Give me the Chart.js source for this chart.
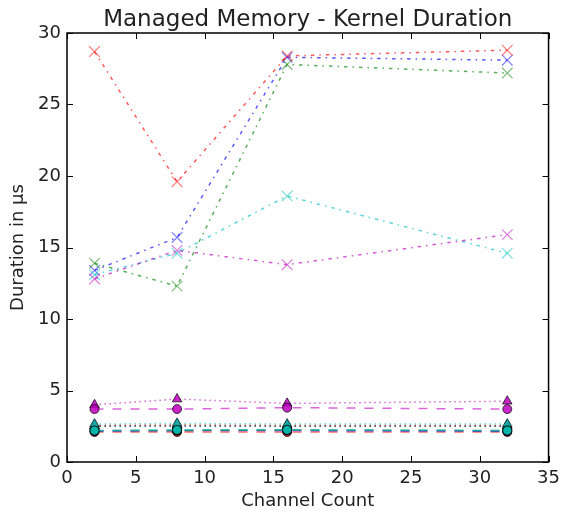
<!DOCTYPE html>
<html>
<head>
<meta charset="utf-8">
<script src="https://cdn.jsdelivr.net/npm/chart.js@4.4.1/dist/chart.umd.min.js"></script>
<style>
  html, body { margin: 0; padding: 0; background: #fff; }
  #wrap { width: 566px; height: 512px; }
</style>
</head>
<body>
<div id="wrap"><canvas id="chart" width="566" height="512"></canvas></div>
<script>
// Data
const channelCounts = [2, 8, 16, 32];
const xTicks = [0, 5, 10, 15, 20, 25, 30, 35];
const yTicks = [0, 5, 10, 15, 20, 25, 30];

// x markers, dash-dot lines
const redCross = [28.7, 19.6, 28.4, 28.8];
const blueCross = [13.4, 15.7, 28.3, 28.1];
const greenCross = [13.9, 12.3, 27.8, 27.2];
const cyanCross = [13.1, 14.6, 18.6, 14.6];
const magentaCross = [12.8, 14.8, 13.8, 15.9];

// triangle markers, dotted lines
const blueTri = [2.5, 2.5, 2.5, 2.5];
const greenTri = [2.5, 2.55, 2.5, 2.5];
const redTri = [2.55, 2.6, 2.55, 2.55];
const cyanTri = [2.65, 2.7, 2.65, 2.65];
const magentaTri = [4.0, 4.4, 4.1, 4.25];

// circle markers, dashed lines
const redCirc = [2.1, 2.1, 2.1, 2.1];
const blueCirc = [2.15, 2.2, 2.2, 2.15];
const greenCirc = [2.2, 2.2, 2.25, 2.2];
const cyanCirc = [2.2, 2.25, 2.25, 2.2];
const magentaCirc = [3.7, 3.7, 3.8, 3.7];

const colors = {
    b: [0, 0, 255],
    g: [0, 128, 0],
    r: [255, 0, 0],
    c: [0, 191, 191],
    m: [191, 0, 191]
};
const rgba = (c, a) => `rgba(${c[0]},${c[1]},${c[2]},${a})`;

const FONT = "'DejaVu Sans', sans-serif";
const TEXT = '#222';

function toPoints(values) {
    return values.map((v, i) => ({ x: channelCounts[i], y: v }));
}

// later series are painted on top, like matplotlib
let drawIndex = 0;
function crossSeries(values, c) {
    const col = colors[c];
    return {
        data: toPoints(values),
        borderColor: rgba(col, 0.65),
        borderWidth: 1.5,
        borderDash: [3.5, 5, 1.5, 5],
        pointStyle: 'crossRot',
        pointRadius: 7.5,
        pointBorderColor: rgba(col, 0.5),
        pointBorderWidth: 1.2,
        fill: false,
        order: -(drawIndex++)
    };
}
function triSeries(values, c) {
    const col = colors[c];
    return {
        data: toPoints(values),
        borderColor: rgba(col, 0.6),
        borderWidth: 1.5,
        borderDash: [1.5, 3.5],
        pointStyle: 'triangle',
        pointRadius: 5.5,
        pointBackgroundColor: rgba(col, 0.85),
        pointBorderColor: 'rgba(0,0,0,0.7)',
        pointBorderWidth: 1,
        fill: false,
        order: -(drawIndex++)
    };
}
function circSeries(values, c) {
    const col = colors[c];
    return {
        data: toPoints(values),
        borderColor: rgba(col, 0.6),
        borderWidth: 1.5,
        borderDash: [9, 9],
        pointStyle: 'circle',
        pointRadius: 4.5,
        pointBackgroundColor: rgba(col, 0.85),
        pointBorderColor: 'rgba(0,0,0,0.7)',
        pointBorderWidth: 1,
        fill: false,
        order: -(drawIndex++)
    };
}

const datasets = [
    crossSeries(blueCross, 'b'),
    crossSeries(greenCross, 'g'),
    crossSeries(redCross, 'r'),
    crossSeries(cyanCross, 'c'),
    crossSeries(magentaCross, 'm'),
    triSeries(blueTri, 'b'),
    triSeries(greenTri, 'g'),
    triSeries(redTri, 'r'),
    triSeries(cyanTri, 'c'),
    triSeries(magentaTri, 'm'),
    circSeries(redCirc, 'r'),
    circSeries(blueCirc, 'b'),
    circSeries(greenCirc, 'g'),
    circSeries(cyanCirc, 'c'),
    circSeries(magentaCirc, 'm')
];

// Box with inward ticks on every side, matplotlib classic style
const framePlugin = {
    id: 'frame',
    afterDatasetsDraw(chart) {
        const { ctx, chartArea: a, scales } = chart;
        const tick = 6;
        ctx.save();
        ctx.strokeStyle = '#000';
        ctx.lineWidth = 1;
        ctx.beginPath();
        xTicks.forEach(v => {
            const px = Math.round(scales.x.getPixelForValue(v)) + 0.5;
            ctx.moveTo(px, a.bottom); ctx.lineTo(px, a.bottom - tick);
            ctx.moveTo(px, a.top); ctx.lineTo(px, a.top + tick);
        });
        yTicks.forEach(v => {
            const py = Math.round(scales.y.getPixelForValue(v)) + 0.5;
            ctx.moveTo(a.left, py); ctx.lineTo(a.left + tick, py);
            ctx.moveTo(a.right, py); ctx.lineTo(a.right - tick, py);
        });
        ctx.stroke();
        ctx.lineWidth = 1.5;
        ctx.strokeRect(a.left, a.top, a.right - a.left, a.bottom - a.top);
        ctx.restore();
    }
};

const titlePlugin = {
    id: 'plotTitle',
    afterDraw(chart) {
        const { ctx, chartArea: a } = chart;
        ctx.save();
        ctx.fillStyle = TEXT;
        ctx.font = `23px ${FONT}`;
        ctx.textAlign = 'center';
        ctx.textBaseline = 'alphabetic';
        ctx.fillText('Managed Memory - Kernel Duration', (a.left + a.right) / 2, 26);
        ctx.restore();
    }
};

new Chart(document.getElementById('chart'), {
    type: 'line',
    data: { datasets },
    options: {
        responsive: false,
        animation: false,
        layout: { padding: { top: 33, right: 12, left: 0, bottom: 0 } },
        plugins: {
            legend: { display: false },
            tooltip: { enabled: false }
        },
        scales: {
            x: {
                type: 'linear',
                min: 0,
                max: 35,
                afterBuildTicks: s => { s.ticks = xTicks.map(v => ({ value: v })); },
                afterFit: s => { s.height = 50; },
                grid: { display: false, drawTicks: false },
                border: { display: false },
                ticks: { color: TEXT, font: { family: FONT, size: 18 }, padding: 6, maxRotation: 0 },
                title: { display: true, text: 'Channel Count', color: TEXT, font: { family: FONT, size: 18 }, padding: { top: 0, bottom: 0 } }
            },
            y: {
                type: 'linear',
                min: 0,
                max: 30,
                afterBuildTicks: s => { s.ticks = yTicks.map(v => ({ value: v })); },
                afterFit: s => { s.width = 67; },
                grid: { display: false, drawTicks: false },
                border: { display: false },
                ticks: { color: TEXT, font: { family: FONT, size: 18 }, padding: 6 },
                title: { display: true, text: 'Duration in µs', color: TEXT, font: { family: FONT, size: 18 }, padding: { top: 8, bottom: 0 } }
            }
        }
    },
    plugins: [framePlugin, titlePlugin]
});
</script>
</body>
</html>
